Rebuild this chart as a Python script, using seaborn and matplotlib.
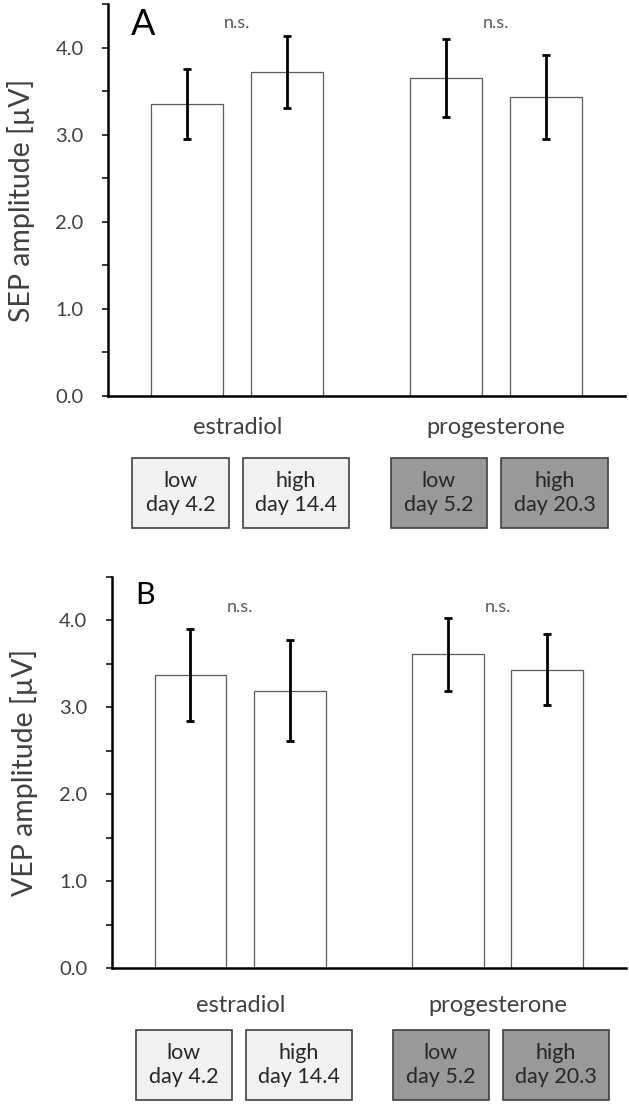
import matplotlib
matplotlib.use("Agg")
import matplotlib.pyplot as plt
import matplotlib.transforms as mtransforms
from matplotlib.patches import Rectangle
from matplotlib.ticker import MultipleLocator, FormatStrFormatter
import pandas as pd
import seaborn as sns

# values
hormones = ["estradiol", "estradiol", "progesterone", "progesterone"]
levels = ["low", "high", "low", "high"]
sep_mean = [3.35, 3.72, 3.65, 3.43]
sep_err = [0.40, 0.41, 0.45, 0.48]
vep_mean = [3.37, 3.19, 3.61, 3.43]
vep_err = [0.53, 0.58, 0.42, 0.41]
box_labels = ["low\nday 4.2", "high\nday 14.4", "low\nday 5.2", "high\nday 20.3"]
box_colors = ["#f2f2f2", "#f2f2f2", "#999999", "#999999"]
panel_letters = ["A", "B"]
ylabels = ["SEP amplitude [µV]", "VEP amplitude [µV]"]
signif = ["n.s.", "n.s."]

sns.set_style("ticks")
plt.rcParams['font.family'] = ['Lato', 'DejaVu Sans']

TXT = "#404040"


def draw_panel(ax, means, errs, letter, ylabel, letter_size, ns_y, xpad):
    df = pd.DataFrame({'hormone': hormones, 'level': levels, 'amp': means})
    sns.barplot(df, x='hormone', y='amp', hue='level', hue_order=['low', 'high'],
                palette={'low': 'white', 'high': 'white'}, width=0.775, gap=0.28,
                edgecolor='#5a5a5a', linewidth=0.9, legend=False, ax=ax)

    bars = sorted(ax.patches, key=lambda p: p.get_x())
    xs = [p.get_x() + p.get_width() / 2 for p in bars]
    ys = [p.get_height() for p in bars]
    ax.errorbar(xs, ys, yerr=errs, fmt='none', ecolor='black', elinewidth=2,
                capsize=2.7, capthick=2)

    ax.set_xlim(-0.5, 1.5)
    ax.set_ylim(0, 4.5)
    ax.yaxis.set_major_locator(MultipleLocator(1.0))
    ax.yaxis.set_minor_locator(MultipleLocator(0.5))
    ax.yaxis.set_major_formatter(FormatStrFormatter('%.1f'))
    ax.tick_params(axis='y', which='both', direction='out', length=4.5, width=1.3,
                   labelsize=14.5, labelcolor=TXT, pad=13)
    ax.tick_params(axis='x', length=0, labelsize=17, labelcolor=TXT, pad=xpad)
    ax.set_xlabel('')
    ax.set_ylabel(ylabel, fontsize=20.5, color=TXT, labelpad=15)
    sns.despine(ax=ax)
    for s in ['left', 'bottom']:
        ax.spines[s].set_linewidth(1.8)
        ax.spines[s].set_color('black')

    ax.text(0.045, 0.99, letter, transform=ax.transAxes, fontsize=letter_size,
            va='top', ha='left', color='black')
    trans = mtransforms.blended_transform_factory(ax.transData, ax.transAxes)
    for g in range(2):
        ax.text(g, ns_y, signif[g], transform=trans, ha='center', va='center',
                fontsize=13, color='#595959')

    # condition boxes under the bars (fixed-size legend boxes)
    box_h = 0.179
    box_cy = -0.247
    for i, lab in enumerate(box_labels):
        g = i // 2
        if i % 2 == 0:
            x0, w = g - 0.407, 0.374
        else:
            x0, w = g + 0.021, 0.413
        ax.add_patch(Rectangle((x0, box_cy - box_h / 2), w, box_h, transform=trans,
                               fc=box_colors[i], ec='#404040', lw=1.2,
                               clip_on=False))
        ax.text(x0 + w / 2, box_cy, lab, transform=trans, ha='center', va='center',
                fontsize=15.5, color='#262626', linespacing=1.25, clip_on=False)


fig = plt.figure(figsize=(6.29, 11.05), dpi=100)
ax1 = fig.add_axes([0.1717, 0.6416, 0.822, 0.3548])
ax2 = fig.add_axes([0.1776, 0.1237, 0.8177, 0.3544])

draw_panel(ax1, sep_mean, sep_err, panel_letters[0], ylabels[0], 26, 0.952, 15)
draw_panel(ax2, vep_mean, vep_err, panel_letters[1], ylabels[1], 22, 0.923, 19)

fig.savefig('out.png', dpi=100)
